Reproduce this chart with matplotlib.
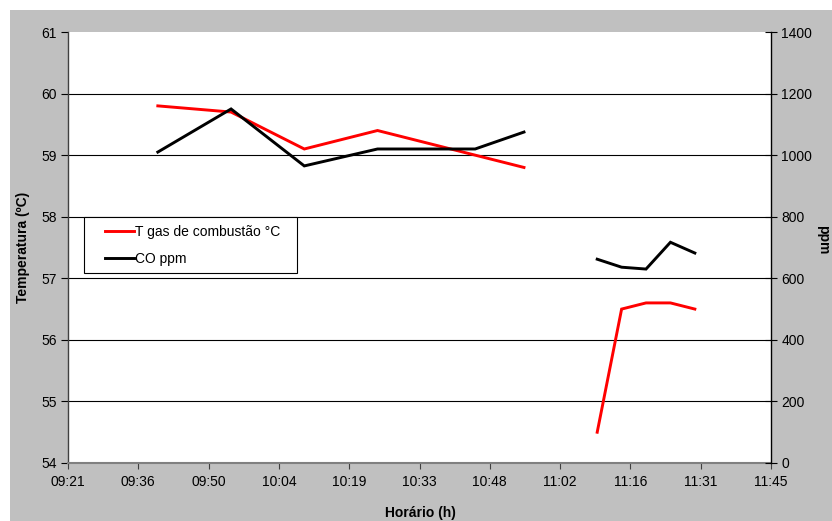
import numpy as np
import matplotlib
matplotlib.use('Agg')
import matplotlib.pyplot as plt
from matplotlib.patches import Rectangle
from matplotlib.legend_handler import HandlerLine2D

plt.rcParams['font.family'] = ['Liberation Sans', 'DejaVu Sans']

# dados
horas_temp = ['09:40', '09:55', '10:10', '10:25', '10:40', '10:55', '11:05',
              '11:10', '11:15', '11:20', '11:25', '11:30']
temp_gas = [59.8, 59.7, 59.1, 59.4, 59.1, 58.8, np.nan,
            54.5, 56.5, 56.6, 56.6, 56.5]

horas_co = ['09:40', '09:55', '10:10', '10:25', '10:45', '10:55', '11:05',
            '11:10', '11:15', '11:20', '11:25', '11:30']
co_ppm = [1010, 1150, 965, 1020, 1020, 1075, np.nan,
          662, 636, 630, 717, 682]

ticks_x = [0.39, 0.40, 0.41, 0.42, 0.43, 0.44, 0.45, 0.46, 0.47, 0.48, 0.49]


def dia(h):
    hh, mm = h.split(':')
    return (int(hh) + int(mm) / 60) / 24


def rotulo(d):
    m = int(d * 24 * 60 + 1e-6)
    return '%02d:%02d' % (m // 60, m % 60)


# traço da legenda só na parte direita da área do símbolo (estilo Excel)
class HandlerCurto(HandlerLine2D):
    def get_xdata(self, legend, xdescent, ydescent, width, height, fontsize):
        x = np.array([-xdescent + width - 21, -xdescent + width])
        return x, x


W, H = 832, 521
fig = plt.figure(figsize=(W / 100, H / 100), dpi=100, facecolor='white')
fig.patches.append(Rectangle((10 / W, 0), 1 - 10 / W, 1 - 10 / H,
                             transform=fig.transFigure, facecolor='#c0c0c0',
                             edgecolor='none', zorder=-10))

ax = fig.add_axes([68 / W, 58 / H, 703 / W, 431 / H])
ax.set_facecolor('white')
ax2 = ax.twinx()

x1 = [dia(h) for h in horas_temp]
x2 = [dia(h) for h in horas_co]
l1, = ax.plot(x1, temp_gas, color='#ff0000', lw=2.1, label='T gas de combustão °C',
              solid_joinstyle='miter')
l2, = ax2.plot(x2, co_ppm, color='black', lw=2.1, label='CO ppm',
               solid_joinstyle='miter')

ax.set_xlim(0.39, 0.49)
ax.set_ylim(54, 61)
ax2.set_ylim(0, 1400)
ax.set_xticks(ticks_x)
ax.set_xticklabels([rotulo(t) for t in ticks_x])
ax.set_yticks(range(54, 62))
ax2.set_yticks(range(0, 1401, 200))

for y in range(55, 61):
    ax.axhline(y, color='black', lw=0.8, zorder=1)

ax.spines['top'].set_visible(False)
ax2.spines['top'].set_visible(False)
ax.spines['right'].set_visible(False)
ax2.spines['left'].set_visible(False)
ax2.spines['bottom'].set_visible(False)
ax.spines['bottom'].set_color('#808080')
ax.spines['bottom'].set_linewidth(1.5)
ax.spines['left'].set_color('#404040')
ax.spines['left'].set_linewidth(1.0)
ax2.spines['right'].set_color('black')
ax2.spines['right'].set_linewidth(1.0)

ax.tick_params(axis='y', direction='out', length=5, width=0.8, labelsize=10, pad=3)
ax.tick_params(axis='x', direction='out', length=4, width=0.8, color='#404040',
               labelsize=10, pad=5)
ax2.tick_params(axis='y', direction='inout', length=9, width=0.8, labelsize=10, pad=3)

ax.set_xlabel('Horário (h)', fontsize=10, fontweight='bold')
ax.xaxis.set_label_coords((420 - 68) / 703, -(506 - 463) / 431)
ax.set_ylabel('Temperatura (ºC)', fontsize=10, fontweight='bold')
ax.yaxis.set_label_coords((30 - 68) / 703, (463 - 247) / 431)
ax2.set_ylabel('ppm', fontsize=10, fontweight='bold', rotation=270, va='center')
ax2.yaxis.set_label_coords((823 - 68) / 703, (463 - 240) / 431)

leg = ax2.legend([l1, l2], [l1.get_label(), l2.get_label()],
                 loc='upper left',
                 bbox_to_anchor=(84 / W, 1 - 272 / H, 213 / W, 55 / H),
                 bbox_transform=fig.transFigure, mode='expand',
                 handler_map={matplotlib.lines.Line2D: HandlerCurto()},
                 fontsize=10, frameon=True,
                 fancybox=False, edgecolor='black', framealpha=1,
                 handlelength=3.05, handletextpad=0.1, labelspacing=0.95,
                 borderpad=0.55, borderaxespad=0)
leg.get_frame().set_linewidth(0.8)

fig.savefig('out.png', dpi=100, facecolor=fig.get_facecolor())
